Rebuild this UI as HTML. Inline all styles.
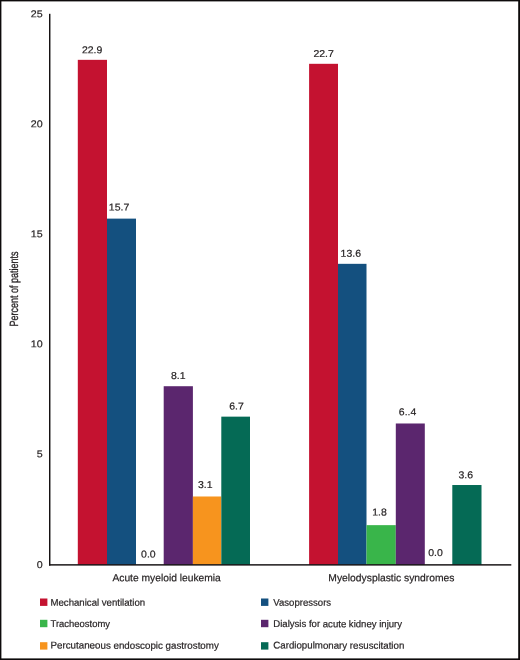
<!DOCTYPE html>
<html lang="en"><head><meta charset="utf-8"><title>Percent of patients</title>
<style>
html,body{margin:0;padding:0;background:#fff;}
body{width:520px;height:660px;overflow:hidden;font-family:"Liberation Sans",Arial,Helvetica,sans-serif;}
svg{display:block;}
text{font-family:"Liberation Sans",Arial,Helvetica,sans-serif;fill:#231F20;stroke:#231F20;stroke-width:0.2px;}
</style></head><body>
<svg width="520" height="660" viewBox="0 0 520 660">
<rect x="0" y="0" width="520" height="660" fill="#fff"/>
<rect x="0" y="0" width="520" height="1.4" fill="#0d0a0b"/>
<rect x="0" y="0" width="1.4" height="660" fill="#0d0a0b"/>
<rect x="518.2" y="0" width="1.8" height="660" fill="#0d0a0b"/>
<rect x="0" y="658.4" width="520" height="1.6" fill="#0d0a0b"/>
<rect x="77.8" y="59.84" width="29.20" height="505.01" fill="#C41230"/>
<rect x="107" y="218.62" width="29.00" height="346.23" fill="#14507F"/>
<rect x="163.7" y="386.22" width="29.20" height="178.63" fill="#5B266E"/>
<rect x="192.9" y="496.49" width="28.40" height="68.36" fill="#F7941E"/>
<rect x="221.3" y="416.65" width="28.70" height="148.20" fill="#056A55"/>
<rect x="309.1" y="63.81" width="28.90" height="501.04" fill="#C41230"/>
<rect x="338" y="263.83" width="28.50" height="301.02" fill="#14507F"/>
<rect x="366.5" y="525.15" width="29.30" height="39.70" fill="#39B54A"/>
<rect x="395.8" y="423.49" width="29.00" height="141.36" fill="#5B266E"/>
<rect x="452.3" y="485.02" width="29.20" height="79.83" fill="#056A55"/>
<rect x="49.0" y="13.8" width="1.45" height="551.8" fill="#161213"/>
<rect x="49.0" y="564.15" width="462.3" height="1.45" fill="#161213"/>
<text transform="translate(42.6 17.15) rotate(0.03) scale(1.08 1)" font-size="9.9" text-anchor="end">25</text>
<text transform="translate(42.6 127.15) rotate(0.03) scale(1.08 1)" font-size="9.9" text-anchor="end">20</text>
<text transform="translate(42.6 237.15) rotate(0.03) scale(1.08 1)" font-size="9.9" text-anchor="end">15</text>
<text transform="translate(42.6 347.15) rotate(0.03) scale(1.08 1)" font-size="9.9" text-anchor="end">10</text>
<text transform="translate(42.6 457.15) rotate(0.03) scale(1.08 1)" font-size="9.9" text-anchor="end">5</text>
<text transform="translate(42.6 568.00) rotate(0.03) scale(1.08 1)" font-size="9.9" text-anchor="end">0</text>
<text transform="translate(92.12 53.3) rotate(0.03) scale(1.06 1)" font-size="9.9" text-anchor="middle">22.9</text>
<text transform="translate(119.05 210.4) rotate(0.03) scale(1.06 1)" font-size="9.9" text-anchor="middle">15.7</text>
<text transform="translate(148.40 557.5) rotate(0.03) scale(1.06 1)" font-size="9.9" text-anchor="middle">0.0</text>
<text transform="translate(178.25 379) rotate(0.03) scale(1.06 1)" font-size="9.9" text-anchor="middle">8.1</text>
<text transform="translate(205.30 488.1) rotate(0.03) scale(1.06 1)" font-size="9.9" text-anchor="middle">3.1</text>
<text transform="translate(236.45 409.6) rotate(0.03) scale(1.06 1)" font-size="9.9" text-anchor="middle">6.7</text>
<text transform="translate(323.60 57) rotate(0.03) scale(1.06 1)" font-size="9.9" text-anchor="middle">22.7</text>
<text transform="translate(350.80 256.8) rotate(0.03) scale(1.06 1)" font-size="9.9" text-anchor="middle">13.6</text>
<text transform="translate(379.50 515.5) rotate(0.03) scale(1.06 1)" font-size="9.9" text-anchor="middle">1.8</text>
<text transform="translate(407.60 415.3) rotate(0.03) scale(1.06 1)" font-size="9.9" text-anchor="middle">6..4</text>
<text transform="translate(435.50 556) rotate(0.03) scale(1.06 1)" font-size="9.9" text-anchor="middle">0.0</text>
<text transform="translate(465.80 478.3) rotate(0.03) scale(1.06 1)" font-size="9.9" text-anchor="middle">3.6</text>
<text transform="translate(17.6 326.6) rotate(-90.03) scale(0.757 1)" font-size="11.9" style="stroke-width:0.3px">Percent of patients</text>
<text transform="translate(112.4 581.25) rotate(0.03)" font-size="10.3" textLength="108.4" lengthAdjust="spacingAndGlyphs">Acute myeloid leukemia</text>
<text transform="translate(328.3 581.25) rotate(0.03)" font-size="10.3" textLength="126.2" lengthAdjust="spacingAndGlyphs">Myelodysplastic syndromes</text>
<rect x="40.0" y="598.5" width="7.4" height="7.4" fill="#C41230"/>
<text transform="translate(50.5 605.65) rotate(0.03)" font-size="9.8" textLength="94.6" lengthAdjust="spacingAndGlyphs">Mechanical ventilation</text>
<rect x="40.0" y="619.8" width="7.4" height="7.4" fill="#39B54A"/>
<text transform="translate(50.5 627.1) rotate(0.03)" font-size="9.8" textLength="59.5" lengthAdjust="spacingAndGlyphs">Tracheostomy</text>
<rect x="40.0" y="642.2" width="7.4" height="7.4" fill="#F7941E"/>
<text transform="translate(50.5 648.6) rotate(0.03)" font-size="9.8" textLength="168.3" lengthAdjust="spacingAndGlyphs">Percutaneous endoscopic gastrostomy</text>
<rect x="261.0" y="598.5" width="7.4" height="7.4" fill="#14507F"/>
<text transform="translate(273.3 605.65) rotate(0.03)" font-size="9.8" textLength="57.8" lengthAdjust="spacingAndGlyphs">Vasopressors</text>
<rect x="261.0" y="619.8" width="7.4" height="7.4" fill="#5B266E"/>
<text transform="translate(273.3 627.1) rotate(0.03)" font-size="9.8" textLength="128.8" lengthAdjust="spacingAndGlyphs">Dialysis for acute kidney injury</text>
<rect x="261.0" y="642.2" width="7.4" height="7.4" fill="#056A55"/>
<text transform="translate(273.3 648.6) rotate(0.03)" font-size="9.8" textLength="131.0" lengthAdjust="spacingAndGlyphs">Cardiopulmonary resuscitation</text>
</svg>
</body></html>
